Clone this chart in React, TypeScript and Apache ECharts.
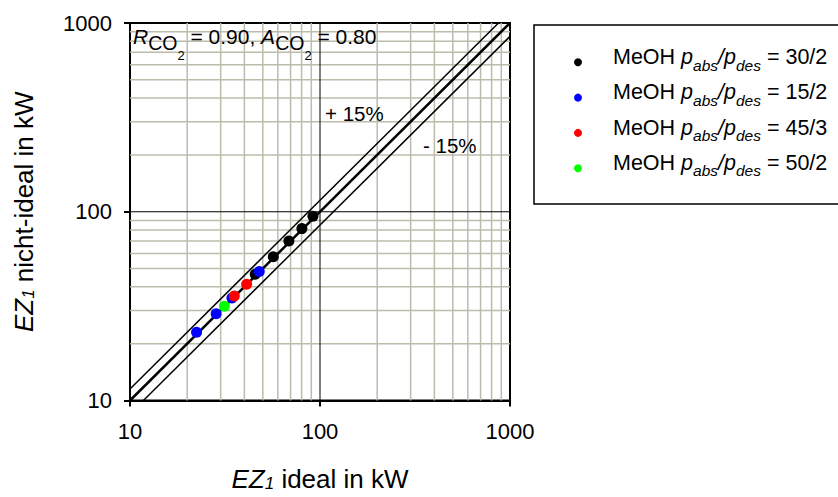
import React, { useEffect, useLayoutEffect, useRef } from "react";
import * as echarts from "echarts";

const axisMin = 10;
const axisMax = 1000;
const tickValues = [10, 100, 1000];
const minorGridValues = [20, 30, 40, 50, 60, 70, 80, 90, 200, 300, 400, 500, 600, 700, 800, 900];
const majorGridValues = [100];

const seriesLabels = ["30/2", "15/2", "45/3", "50/2"];
const seriesColors = ["#000000", "#0000ff", "#ff0000", "#00ff00"];
const meoh302 = [[45.6, 46.7], [56.8, 57.8], [68.6, 69.9], [80.3, 81.4], [91.8, 94.6]];
const meoh152 = [[22.4, 23.0], [28.4, 28.8], [34.4, 34.9], [47.9, 48.2]];
const meoh453 = [[35.4, 35.8], [41.1, 41.3]];
const meoh502 = [[31.4, 31.6]];
const seriesData = [meoh302, meoh152, meoh453, meoh502];

const lineFactors = [1, 1.15, 0.85];
const lineWidths = [2.5, 1.5, 1.5];

const FONT = "'Liberation Sans', Arial, sans-serif";

function lineEnds(f: number): number[][] {
  const x0 = Math.max(axisMin, axisMin / f);
  const x1 = Math.min(axisMax, axisMax / f);
  return [[x0, x0 * f], [x1, x1 * f]];
}

const tok = (o: any) => ({ fontFamily: FONT, verticalAlign: "bottom", fill: "#000", color: "#000", ...o });

const nameRich = {
  i: tok({ fontSize: 26, fontStyle: "italic" }),
  is: tok({ fontSize: 17, fontStyle: "italic" }),
  n: tok({ fontSize: 26 }),
};

const legendRich = {
  n: tok({ fontSize: 21.5, padding: [0, 0, 5, 0] }),
  i: tok({ fontSize: 21.5, fontStyle: "italic", padding: [0, 0, 5, 0] }),
  is: tok({ fontSize: 15.5, fontStyle: "italic" }),
};

const annRich = {
  bi: tok({ fontSize: 21, fontStyle: "italic", padding: [0, 0, 14.8, 0] }),
  b: tok({ fontSize: 21, padding: [0, 0, 14.8, 0] }),
  s: tok({ fontSize: 19.5, padding: [0, 0, 8.5, 0] }),
  ss: tok({ fontSize: 13 }),
};

export default function App() {
  const ref = useRef<HTMLDivElement>(null);
  useLayoutEffect(() => {
    document.body.style.margin = "0";
    document.body.style.padding = "0";
  }, []);
  useEffect(() => {
    if (!ref.current) return;
    const chart = echarts.init(ref.current, undefined, { renderer: "svg" });

    const axisCommon = (isX: boolean) => ({
      type: "log",
      logBase: 10,
      min: axisMin,
      max: axisMax,
      nameLocation: "middle",
      nameGap: isX ? 65.5 : 93.5,
      nameRotate: isX ? 0 : 90,
      name: isX ? "{i|EZ}{is|1}{n| ideal in kW}" : "{i|EZ}{is|1}{n| nicht-ideal in kW}",
      nameTextStyle: { rich: nameRich },
      axisLine: { show: true, lineStyle: { color: "#000", width: 2 } },
      axisTick: { show: true, inside: false, length: 6, lineStyle: { color: "#000", width: 2 } },
      minorTick: { show: false },
      axisLabel: {
        show: true,
        margin: isX ? 20 : 18,
        fontSize: 22,
        fontFamily: FONT,
        color: "#000",
        formatter: (v: number) => (tickValues.some((t) => Math.abs(t - v) < 1e-6) ? String(v) : ""),
      },
      splitLine: { show: false },
    });

    const series: any[] = [];
    const gridLine = (pts: number[][], color: string, width: number, z: number) => ({
      type: "line",
      data: pts,
      symbol: "none",
      showSymbol: false,
      silent: true,
      z,
      lineStyle: { color, width },
    });
    minorGridValues.forEach((v) => {
      series.push(gridLine([[v, axisMin], [v, axisMax]], "#bcbcac", 1.5, 1));
      series.push(gridLine([[axisMin, v], [axisMax, v]], "#bcbcac", 1.5, 1));
    });
    majorGridValues.forEach((v) => {
      series.push(gridLine([[v, axisMin], [v, axisMax]], "#000", 1, 2));
      series.push(gridLine([[axisMin, v], [axisMax, v]], "#000", 1, 2));
    });
    lineFactors.forEach((f, k) => {
      series.push(gridLine(lineEnds(f), "#000", lineWidths[k], 3));
    });
    seriesData.forEach((d, k) => {
      series.push({
        type: "scatter",
        name: seriesLabels[k],
        data: d,
        symbol: "circle",
        symbolSize: 11,
        z: 5 + k,
        itemStyle: { color: seriesColors[k], opacity: 1 },
      });
    });

    // legend drawn as graphic rows
    const legendX = 578;
    const legendTextX = 613;
    const legendTop = 46;
    const legendStep = 35.3;
    const legendItems: any[] = [];
    seriesLabels.forEach((lab, k) => {
      const top = legendTop + k * legendStep;
      legendItems.push({
        type: "circle",
        shape: { cx: legendX, cy: top + 16.3, r: 4 },
        style: { fill: seriesColors[k] },
        z: 10,
      });
      legendItems.push({
        type: "text",
        x: legendTextX,
        y: top,
        z: 10,
        style: {
          text: "{n|MeOH }{i|p}{is|abs}{i|/p}{is|des}{n| = " + lab + "}",
          rich: legendRich,
          verticalAlign: "top",
          align: "left",
          fill: "#000",
        },
      });
    });

    chart.setOption({
      animation: false,
      tooltip: { show: false },
      grid: {
        left: 130,
        top: 23,
        width: 380,
        height: 381,
        show: true,
        borderColor: "#000",
        borderWidth: 2,
        backgroundColor: "#fff",
        containLabel: false,
      },
      xAxis: axisCommon(true),
      yAxis: axisCommon(false),
      graphic: [
        {
          type: "rect",
          shape: { x: 534, y: 25, width: 320, height: 179 },
          style: { fill: "none", stroke: "#000", lineWidth: 1.5 },
          z: 0,
        },
        ...legendItems,
        {
          type: "text",
          x: 133,
          y: 26.2,
          z: 10,
          style: {
            text: "{bi|R}{s|CO}{ss|2}{b| = 0.90, }{bi|A}{s|CO}{ss|2}{b| = 0.80}",
            rich: annRich,
            verticalAlign: "top",
            align: "left",
            fill: "#000",
          },
        },
        {
          type: "text",
          x: 325,
          y: 113,
          z: 10,
          style: { text: "+ 15%", fontFamily: FONT, fontSize: 20.5, fill: "#000", verticalAlign: "middle", align: "left" },
        },
        {
          type: "text",
          x: 423,
          y: 145.5,
          z: 10,
          style: { text: "- 15%", fontFamily: FONT, fontSize: 20.5, fill: "#000", verticalAlign: "middle", align: "left" },
        },
      ],
      series,
    });
    return () => chart.dispose();
  }, []);
  return <div ref={ref} style={{ width: 838, height: 497, background: "#fff" }} />;
}
